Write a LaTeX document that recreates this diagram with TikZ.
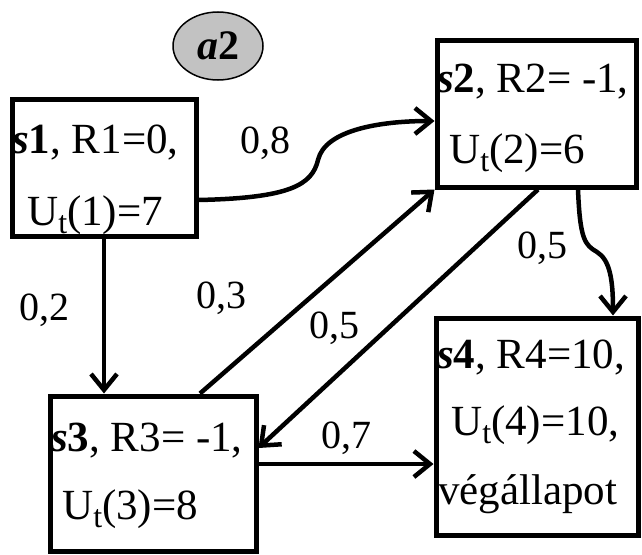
\documentclass[tikz,border=0pt]{standalone}
\usepackage{fontspec}
\setmainfont{Liberation Serif}
\usetikzlibrary{arrows.meta,calc,shapes.geometric}
\newcommand\subtee{\raisebox{-8pt}{\fontsize{32}{32}\selectfont t}}
\begin{document}
\begin{tikzpicture}[x=1pt,y=-1pt,
  box/.style={draw,line width=5pt,rectangle,inner sep=0pt},
  txt/.style={anchor=base west,inner sep=0pt,font=\fontsize{43}{50}\selectfont},
  lbl/.style={anchor=base west,inner sep=0pt,font=\fontsize{40}{46}\selectfont},
  conn/.style={line width=4.5pt,-{Straight Barb[length=16pt,width=26pt,line width=4.5pt]}},
  act/.style={draw,line width=1.5pt,fill=black!24,ellipse,minimum width=90pt,minimum height=68pt,inner sep=0pt}]
\useasboundingbox (0,0) rectangle (642,554);
\node[box,minimum width=184pt,minimum height=137pt] (s1) at (104,167.5) {};
\node[box,minimum width=199pt,minimum height=147pt] (s2) at (536.5,113.5) {};
\node[box,minimum width=206pt,minimum height=155pt] (s3) at (153,473.5) {};
\node[box,minimum width=202pt,minimum height=217pt] (s4) at (537,426.5) {};
\node[act] (a2) at (218,46) {};
\node[anchor=base,inner sep=0pt,font=\fontsize{42}{48}\selectfont] (a2t) at (218,59) {\textbf{\textit{a}2}};
% texts
\node[txt] (t1a) at (12,153) {\textbf{\textit{s}1}, R1=0,};
\node[txt] (t1b) at (27,225) {U\subtee(1)=7};
\node[txt] (t2a) at (437,92) {\textbf{\textit{s}2}, R2= -1,};
\node[txt] (t2b) at (449,163) {U\subtee(2)=6};
\node[txt] (t3a) at (51,451) {\textbf{\textit{s}3}, R3= -1,};
\node[txt] (t3b) at (62,519) {U\subtee(3)=8};
\node[txt] (t4a) at (437,368) {\textbf{\textit{s}4}, R4=10,};
\node[txt] (t4b) at (451,435) {U\subtee(4)=10,};
\node[txt] (t4c) at (438,504) {végállapot};
% labels
\node[lbl] (l08) at (240,153) {0,8};
\node[lbl] (l02) at (19,320) {0,2};
\node[lbl] (l03) at (196,308) {0,3};
\node[lbl] (l05a) at (309,338) {0,5};
\node[lbl] (l05b) at (517,258) {0,5};
\node[lbl] (l07) at (321,448) {0,7};
% connectors
\draw[conn] ($(s1.east)+(0,32.5)$) .. controls (290,198) and (312,185) .. (318,160) .. controls (325,130) and (380,121) .. ($(s2.west)+(0,7.5)$);
\draw[conn] (s1.south) -- (s1.south |- s3.north);
\draw[conn] ($(s3.north)+(47,0)$) -- (s2.south west);
\draw[conn] ($(s2.south)+(1.5,0)$) -- ($(s3.east)+(0,-25.5)$);
\draw[conn] ($(s2.south)+(41.5,0)$) .. controls (580,240) and (585,245) .. (597,252) .. controls (610,260) and (613,280) .. ($(s4.north)+(76,0)$);
\draw[conn] ($(s3.east)+(0,-9.5)$) -- ($(s4.west)+(0,37.5)$);
\end{tikzpicture}
\end{document}
